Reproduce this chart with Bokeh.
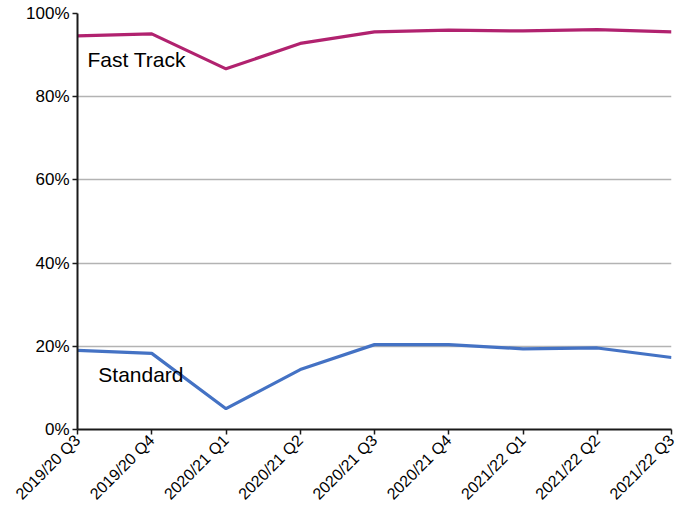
import math
from bokeh.plotting import figure
from bokeh.models import Range1d, FixedTicker, PrintfTickFormatter, ColumnDataSource
from bokeh.core.properties import value
from bokeh.embed import file_html
from bokeh.resources import INLINE

quarters = ["2019/20 Q3", "2019/20 Q4", "2020/21 Q1", "2020/21 Q2", "2020/21 Q3",
            "2020/21 Q4", "2021/22 Q1", "2021/22 Q2", "2021/22 Q3"]
fast_track = [94.6, 95.1, 86.7, 92.8, 95.6, 96.0, 95.8, 96.1, 95.6]
standard = [19.0, 18.3, 5.0, 14.4, 20.4, 20.4, 19.4, 19.6, 17.3]
y_ticks = [0, 20, 40, 60, 80, 100]

FONT = "Liberation Sans"

p = figure(width=678, height=511, output_backend="svg", toolbar_location=None,
           x_range=Range1d(0, len(quarters) - 1), y_range=Range1d(0, 100),
           min_border_left=77, min_border_right=7, min_border_top=13, min_border_bottom=77)
p.outline_line_color = None
p.background_fill_color = "white"
p.border_fill_color = "white"

xs = list(range(len(quarters)))
p.line(xs, fast_track, line_color="#B1226F", line_width=3.2)
p.line(xs, standard, line_color="#4472C4", line_width=3.2)

labels = ColumnDataSource(dict(x=[0.135, 0.28], y=[88.9, 13.2], t=["Fast Track", "Standard"]))
p.text(x="x", y="y", text="t", source=labels, text_font=value(FONT), text_font_size="21px",
       text_color="#000000", text_baseline="alphabetic", text_align="left")

p.xgrid.visible = False
p.ygrid.ticker = FixedTicker(ticks=y_ticks)
p.ygrid.grid_line_color = "#B3B3B3"
p.ygrid.grid_line_width = 1.3

xaxis = p.xaxis[0]
yaxis = p.yaxis[0]
yaxis.ticker = FixedTicker(ticks=y_ticks)
yaxis.formatter = PrintfTickFormatter(format="%d%%")
xaxis.ticker = FixedTicker(ticks=xs)
xaxis.major_label_overrides = {i: q for i, q in enumerate(quarters)}
xaxis.major_label_orientation = math.pi / 4

for ax in (xaxis, yaxis):
    ax.axis_line_color = "#1a1a1a"
    ax.axis_line_width = 2
    ax.major_tick_line_color = "#1a1a1a"
    ax.major_tick_line_width = 1.5
    ax.major_tick_out = 5
    ax.major_tick_in = 0
    ax.minor_tick_line_color = None
    ax.major_label_text_font = FONT
    ax.major_label_text_color = "#000000"
    ax.major_label_standoff = 3
xaxis.major_label_text_font_size = "16px"
yaxis.major_label_text_font_size = "17px"

open("out.html", "w").write(file_html(p, INLINE))
